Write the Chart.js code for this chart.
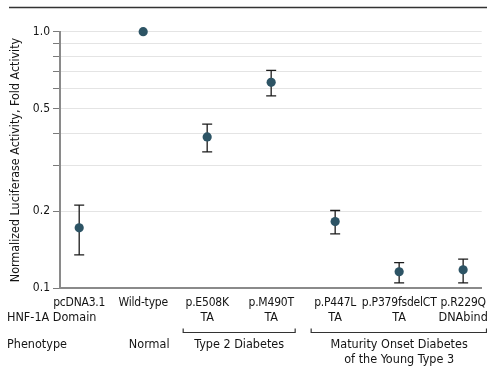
<!DOCTYPE html>
<html>
<head>
<meta charset="utf-8">
<script src="https://cdn.jsdelivr.net/npm/chart.js@4.4.1/dist/chart.umd.min.js"></script>
<style>
  html, body { margin: 0; padding: 0; background: #fff; }
  #wrap { width: 487px; height: 382px; }
</style>
</head>
<body>
<div id="wrap"><canvas id="luciferaseChart" width="487" height="382"></canvas></div>
<script>
// data
const variants = ['pcDNA3.1', 'Wild-type', 'p.E508K', 'p.M490T', 'p.P447L', 'p.P379fsdelCT', 'p.R229Q'];
const domains = ['', '', 'TA', 'TA', 'TA', 'TA', 'DNAbind'];
const foldActivity = [0.172, 1.0, 0.389, 0.635, 0.182, 0.116, 0.118];
const errLow = [0.135, null, 0.340, 0.562, 0.163, 0.105, 0.105];
const errHigh = [0.211, null, 0.436, 0.707, 0.201, 0.126, 0.130];
const yTicks = [0.1, 0.2, 0.3, 0.4, 0.5, 0.6, 0.7, 0.8, 0.9, 1.0];
const yLabelTicks = [0.1, 0.2, 0.5, 1.0];
const phenotypeGroups = [
    { lines: ['Normal'], from: 1, to: 1 },
    { lines: ['Type 2 Diabetes'], from: 2, to: 3 },
    { lines: ['Maturity Onset Diabetes', 'of the Young Type 3'], from: 4, to: 6 }
];

const FONT = "'DejaVu Sans Condensed', 'Liberation Sans Narrow', 'Roboto', sans-serif";
const TEXT = '#141414';

// error bars under the points
const errorBars = {
    id: 'errorBars',
    beforeDatasetsDraw(chart) {
        const { ctx, scales: { x, y } } = chart;
        ctx.save();
        ctx.strokeStyle = '#1b1b1b';
        ctx.lineWidth = 1.3;
        for (let i = 0; i < variants.length; i++) {
            if (errLow[i] == null) continue;
            const px = x.getPixelForValue(i);
            const top = y.getPixelForValue(errHigh[i]);
            const bot = y.getPixelForValue(errLow[i]);
            ctx.beginPath();
            ctx.moveTo(px, top); ctx.lineTo(px, bot);
            ctx.moveTo(px - 5, top); ctx.lineTo(px + 5, top);
            ctx.moveTo(px - 5, bot); ctx.lineTo(px + 5, bot);
            ctx.stroke();
        }
        ctx.restore();
    }
};

// the table of labels under the axis
const labelTable = {
    id: 'labelTable',
    afterDraw(chart) {
        const { ctx, scales: { x } } = chart;
        ctx.save();
        ctx.fillStyle = TEXT;
        ctx.textBaseline = 'middle';
        ctx.textAlign = 'center';

        ctx.font = '12px ' + FONT;
        ctx.letterSpacing = '-0.2px';
        variants.forEach((v, i) => ctx.fillText(v, x.getPixelForValue(i), 302.5));
        ctx.letterSpacing = '0px';

        ctx.font = '12.5px ' + FONT;
        domains.forEach((d, i) => { if (d) ctx.fillText(d, x.getPixelForValue(i), 318); });

        ctx.textAlign = 'left';
        ctx.fillText('HNF-1A Domain', 7, 318);
        ctx.fillText('Phenotype', 7, 344.5);

        ctx.strokeStyle = '#333';
        ctx.lineWidth = 1.2;
        ctx.textAlign = 'center';
        phenotypeGroups.forEach(g => {
            const a = x.getPixelForValue(g.from);
            const b = x.getPixelForValue(g.to);
            let cx = (a + b) / 2;
            if (g.from === g.to) {
                cx += 6;
            } else {
                const l = a - 24;
                const r = Math.min(b + 24, chart.width - 0.5);
                ctx.beginPath();
                ctx.moveTo(l, 328.5); ctx.lineTo(l, 332.5);
                ctx.lineTo(r, 332.5); ctx.lineTo(r, 328.5);
                ctx.stroke();
            }
            g.lines.forEach((t, k) => ctx.fillText(t, cx, 344.5 + k * 15));
        });

        // rule under the (cropped) panel heading
        ctx.strokeStyle = '#333';
        ctx.lineWidth = 1.5;
        ctx.beginPath();
        ctx.moveTo(9, 7.5); ctx.lineTo(487, 7.5);
        ctx.stroke();
        ctx.restore();
    }
};

const ctx = document.getElementById('luciferaseChart').getContext('2d');
new Chart(ctx, {
    type: 'scatter',
    data: {
        datasets: [{
            label: 'Fold activity',
            data: foldActivity.map((v, i) => ({ x: i, y: v })),
            backgroundColor: '#2d5465',
            borderWidth: 0,
            pointRadius: 4.6,
            pointHoverRadius: 4.6,
            clip: false
        }]
    },
    options: {
        responsive: false,
        animation: false,
        events: [],
        layout: { padding: { top: 31.7, bottom: 93.7, left: 0, right: 5.3 } },
        plugins: { legend: { display: false }, tooltip: { enabled: false } },
        scales: {
            x: {
                type: 'linear',
                min: -0.3,
                max: 6.29,
                ticks: { display: false },
                grid: { display: false, drawTicks: false },
                border: { color: '#8a8a8a', width: 2 },
                afterFit(s) { s.height = 0; }
            },
            y: {
                type: 'logarithmic',
                min: 0.1,
                max: 1.0,
                afterBuildTicks(s) { s.ticks = yTicks.map(v => ({ value: v })); },
                afterFit(s) { s.width = 60; },
                ticks: {
                    color: TEXT,
                    font: { family: FONT, size: 12 },
                    padding: 3,
                    autoSkip: false,
                    callback: v => yLabelTicks.some(t => Math.abs(t - v) < 1e-9) ? v.toFixed(1) : ''
                },
                grid: { color: '#e4e4e4', tickColor: '#7a7a7a', tickLength: 7, lineWidth: 1 },
                border: { color: '#8a8a8a', width: 2 },
                title: {
                    display: true,
                    text: 'Normalized Luciferase Activity, Fold Activity',
                    color: TEXT,
                    font: { family: FONT, size: 12.4 },
                    padding: { top: 8, bottom: 0 }
                }
            }
        }
    },
    plugins: [errorBars, labelTable]
});
</script>
</body>
</html>
